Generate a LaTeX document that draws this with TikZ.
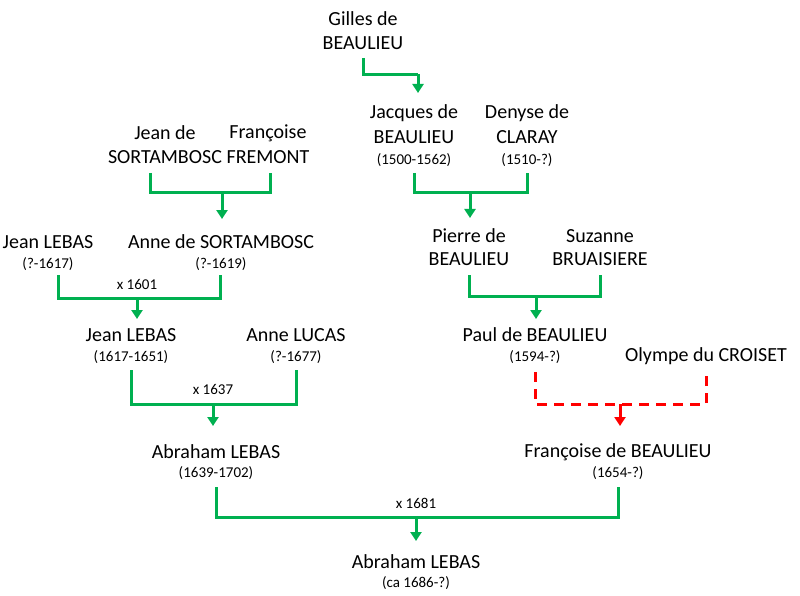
\documentclass[tikz,border=0pt]{standalone}
\usepackage{fontspec}
\setmainfont{Carlito}
\usetikzlibrary{arrows.meta}
\definecolor{gr}{RGB}{0,176,80}
\tikzset{x=1pt,y=-1pt,
 nm/.style={font=\fontsize{20}{21}\selectfont,inner sep=0pt,anchor=center},
 dt/.style={font=\fontsize{15}{16}\selectfont,inner sep=0pt,anchor=center},
 lbl/.style={font=\fontsize{15}{16}\selectfont,inner sep=0pt,anchor=center},
 gl/.style={draw=gr,line width=3pt},
 ga/.style={draw=gr,line width=3pt,-{Triangle[length=9pt,width=11pt]}},
 rl/.style={draw=red,line width=3pt,dash pattern=on 10pt off 7pt},
 ra/.style={draw=red,line width=3pt,-{Triangle[length=9pt,width=11pt]}}}
\begin{document}
\begin{tikzpicture}
\useasboundingbox (0,0) rectangle (800,596);
% names
\node[nm] (g1) at (363,19) {Gilles de};
\node[nm] (g2) at (363,43) {BEAULIEU};
\node[nm] (jb1) at (414,113) {Jacques de};
\node[nm] (jb2) at (414,137) {BEAULIEU};
\node[dt] (jb3) at (414,160) {(1500-1562)};
\node[nm] (dc1) at (527,113) {Denyse de};
\node[nm] (dc2) at (527,137) {CLARAY};
\node[dt] (dc3) at (527,160) {(1510-?)};
\node[nm] (js1) at (165,133) {Jean de};
\node[nm] (js2) at (165,157) {SORTAMBOSC};
\node[nm] (ff1) at (268,133) {Françoise};
\node[nm] (ff2) at (268,157) {FREMONT};
\node[nm] (jl1) at (48,242) {Jean LEBAS};
\node[dt] (jl2) at (48,264) {(?-1617)};
\node[nm] (as1) at (221,242) {Anne de SORTAMBOSC};
\node[dt] (as2) at (221,264) {(?-1619)};
\node[nm] (pb1) at (469,236) {Pierre de};
\node[nm] (pb2) at (469,259) {BEAULIEU};
\node[nm] (sb1) at (600,236) {Suzanne};
\node[nm] (sb2) at (600,259) {BRUAISIERE};
\node[nm] (jl3) at (131,335) {Jean LEBAS};
\node[dt] (jl4) at (131,357) {(1617-1651)};
\node[nm] (al1) at (296,335) {Anne LUCAS};
\node[dt] (al2) at (296,357) {(?-1677)};
\node[nm] (pa1) at (535,335) {Paul de BEAULIEU};
\node[dt] (pa2) at (535,357) {(1594-?)};
\node[nm] (oc) at (706,356) {Olympe du CROISET};
\node[nm] (ab1) at (216,452) {Abraham LEBAS};
\node[dt] (ab2) at (216,473) {(1639-1702)};
\node[nm] (fb1) at (618,452) {Françoise de BEAULIEU};
\node[dt] (fb2) at (618,473) {(1654-?)};
\node[nm] (ac1) at (416,562) {Abraham LEBAS};
\node[dt] (ac2) at (416,583) {(ca 1686-?)};
% connectors
\coordinate (c0) at (363,75);
\draw[gl] (363,58) -- (c0) -- (418,75);
\draw[ga] (418,74) -- (418,93);
\coordinate (c1) at (470,193);
\draw[gl] (414,173) |- (c1) -| (527,173);
\draw[ga] (c1) -- (470,218);
\coordinate (c2) at (222,193);
\draw[gl] (150,173) |- (c2) -| (270,173);
\draw[ga] (c2) -- (222,219);
\coordinate (c3) at (137,298);
\draw[gl] (58,275) |- (c3) -| (220,275);
\draw[ga] (c3) -- (137,319);
\node[lbl] (l1) at (137,284) {x 1601};
\coordinate (c4) at (536,296);
\draw[gl] (469,275) |- (c4) -| (600,275);
\draw[ga] (c4) -- (536,319);
\coordinate (c5) at (213,404);
\draw[gl] (131,370) |- (c5) -| (296,370);
\draw[ga] (c5) -- (213,426);
\node[lbl] (l2) at (213,389) {x 1637};
\coordinate (c6) at (620,404);
\draw[rl] (535,372) |- (c6) -| (706,372);
\draw[ra] (c6) -- (620,426);
\coordinate (c7) at (416,517);
\draw[gl] (216,487) |- (c7) -| (618,487);
\draw[ga] (c7) -- (416,541);
\node[lbl] (l3) at (416,503) {x 1681};
\end{tikzpicture}
\end{document}
